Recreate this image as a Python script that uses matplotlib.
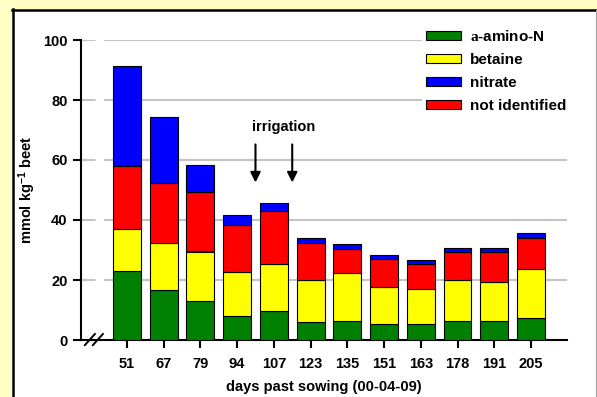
import matplotlib
matplotlib.use("Agg")
import matplotlib.pyplot as plt
import numpy as np
from matplotlib.patches import Rectangle, Patch
from matplotlib.lines import Line2D

# Values (mmol kg-1 beet)
days = ["51", "67", "79", "94", "107", "123", "135", "151", "163", "178", "191", "205"]
amino_n = [23.0, 16.7, 13.0, 8.0, 9.7, 6.0, 6.3, 5.3, 5.3, 6.3, 6.2, 7.3]
betaine = [14.0, 15.5, 16.5, 14.8, 15.6, 14.0, 15.9, 12.3, 11.7, 13.6, 13.1, 16.4]
not_identified = [21.0, 20.1, 19.8, 15.5, 17.7, 12.4, 8.2, 9.3, 8.2, 9.5, 10.1, 10.4]
nitrate = [33.4, 22.0, 9.1, 3.5, 2.8, 1.7, 1.6, 1.3, 1.4, 1.2, 1.4, 1.5]
y_ticks = [0, 20, 40, 60, 80, 100]
irrigation_at = [3.5, 4.5]  # between sampling dates

plt.rcParams["font.family"] = ["Liberation Sans", "DejaVu Sans"]
plt.rcParams["font.weight"] = "bold"
plt.rcParams["mathtext.fontset"] = "custom"
plt.rcParams["mathtext.rm"] = "Liberation Sans:bold"
plt.rcParams["mathtext.tt"] = "Liberation Serif"
plt.rcParams["mathtext.default"] = "rm"

W, H = 597, 397
FS = 10.5
fig = plt.figure(figsize=(W / 100, H / 100), dpi=100, facecolor="#FFFFC4")

# white panel with black left/top border
fig.patches.append(Rectangle((12 / W, -0.05), (596 - 12) / W, 1.05 - 9 / H,
                             transform=fig.transFigure, facecolor="white",
                             edgecolor="none", zorder=-2))
fig.lines.append(Line2D([13 / W, 13 / W], [0, 1 - 9 / H], transform=fig.transFigure,
                        color="black", lw=1.8, zorder=-1))
fig.lines.append(Line2D([12 / W, 596 / W], [1 - 10 / H, 1 - 10 / H],
                        transform=fig.transFigure, color="black", lw=1.8, zorder=-1))
fig.lines.append(Line2D([595.5 / W, 595.5 / W], [0, 1 - 10 / H],
                        transform=fig.transFigure, color="#A0A0A0", lw=0.8, zorder=-1))

ax = fig.add_axes([81 / W, 1 - 340 / H, (567 - 81) / W, 300 / H])
ax.set_zorder(1)
ax.set_facecolor("none")

x = np.arange(len(days))
xmin, xmax = -1.25, 11.98
width = 0.76

# gridlines: dashed near the axis break, solid behind the bars
for yv in y_ticks[1:]:
    ax.hlines(yv, xmin, -0.38, colors="#C4C4C4", lw=1.5,
              linestyles=(0, (7, 4)), zorder=1)
    ax.hlines(yv, -0.38, xmax, colors="#C4C4C4", lw=1.5, zorder=1)

series = [
    (amino_n, "#008000", r"$\mathtt{a}$-amino-N"),
    (betaine, "#FFFF00", "betaine"),
    (not_identified, "#FF0000", "not identified"),
    (nitrate, "#0000FF", "nitrate"),
]
bottom = np.zeros(len(days))
for vals, col, lab in series:
    ax.bar(x, vals, width=width, bottom=bottom, color=col,
           edgecolor="black", linewidth=0.8, zorder=3)
    bottom += np.array(vals)

ax.set_xlim(xmin, xmax)
ax.set_ylim(0, 100)
ax.set_xticks(x, days)
ax.set_yticks(y_ticks)
for s in ("top", "right"):
    ax.spines[s].set_visible(False)
for s in ("left", "bottom"):
    ax.spines[s].set_linewidth(1.5)
ax.tick_params(axis="both", direction="out", length=6, width=1.5, labelsize=FS)
ax.tick_params(axis="x", pad=6.5)
ax.tick_params(axis="y", pad=3.6)

# axis break marks
for x0 in (-1.144, -0.926):
    ax.plot([x0, x0 + 0.272], [-1.7, 2.0], color="black", lw=1.4,
            clip_on=False, zorder=5)

ax.set_xlabel("days past sowing (00-04-09)", fontsize=FS, fontweight="bold")
ax.xaxis.set_label_coords(0.5, -0.135)
ax.set_ylabel("mmol kg$^{-1}$ beet", fontsize=FS, fontweight="bold")
ax.yaxis.set_label_coords(-0.0885, 0.5)

# irrigation arrows
for xi in irrigation_at:
    ax.annotate("", xy=(xi, 52.5), xytext=(xi, 65.2),
                arrowprops=dict(arrowstyle="-|>", color="black", lw=1.5,
                                mutation_scale=15, shrinkA=0, shrinkB=0))
ax.text(np.mean(irrigation_at) + 0.27, 71, "irrigation", ha="center",
        va="center", fontsize=FS, fontweight="bold")

handles = [Patch(facecolor=c, edgecolor="black", linewidth=0.8, label=l)
           for _, c, l in [series[0], series[1], series[3], series[2]]]
ax.legend(handles=handles, loc="upper left",
          bbox_to_anchor=(421.6 / W, 1 - 24 / H), bbox_transform=fig.transFigure,
          frameon=True, facecolor="white", edgecolor="none", framealpha=1,
          fancybox=False, borderpad=0.3, borderaxespad=0, handlelength=2.29,
          handleheight=0.52, handletextpad=0.59, labelspacing=0.6,
          prop=dict(weight="bold", size=11))

fig.savefig("out.png", dpi=100, facecolor=fig.get_facecolor())
